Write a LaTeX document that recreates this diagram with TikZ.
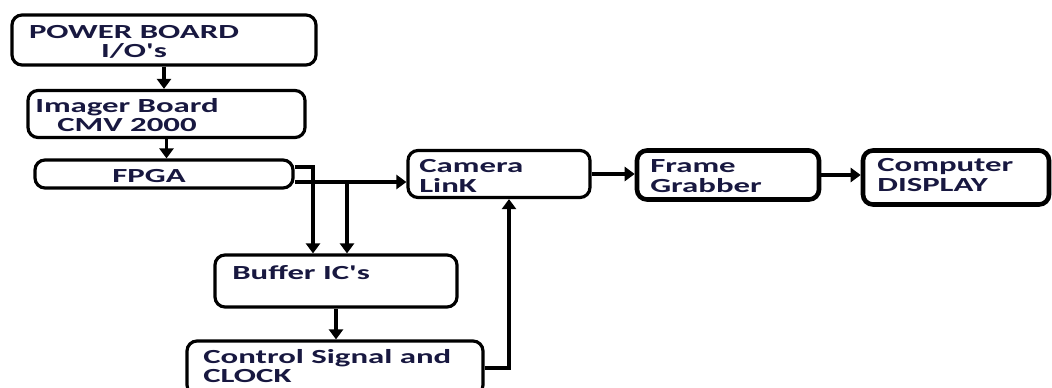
\documentclass[tikz,border=0pt]{standalone}
\usepackage{fontspec}
\setmainfont{Carlito}
\usetikzlibrary{arrows.meta}

\definecolor{inkblue}{RGB}{24,24,64}

\begin{document}
\begin{tikzpicture}[x=1pt,y=-1pt,
	box/.style={draw,rounded corners=10pt,line width=3.2pt,fill=white},
	heavybox/.style={box,line width=4.6pt},
	txt/.style={text=inkblue,font=\fontsize{20}{19.5}\selectfont\bfseries,
		inner sep=0pt,xscale=1.64},
	arr/.style={line width=3.2pt,-{Triangle[width=14pt,length=10pt]}}]
	\useasboundingbox (0,0) rectangle (1052,388);

	% left column
	\node[box,minimum width=304pt,minimum height=50pt] (pwr)  at (164,40)    {};
	\node[box,minimum width=277pt,minimum height=47pt] (img)  at (166.5,114) {};
	\node[box,minimum width=258pt,minimum height=28pt] (fpga) at (164,174)   {};
	\node[box,minimum width=242pt,minimum height=52pt] (bufr) at (336,281)   {};
	\node[box,minimum width=296pt,minimum height=54pt] (ctrl) at (335,368)   {};

	% top row
	\node[box,minimum width=182pt,minimum height=47pt]      (cam)  at (499,174)   {};
	\node[heavybox,minimum width=182pt,minimum height=49pt] (frm)  at (728,175)   {};
	\node[heavybox,minimum width=186pt,minimum height=54pt] (disp) at (956,177.5) {};

	% labels
	\node[txt,align=center] at (134,42)  {POWER BOARD\\I/O\textquotesingle s};
	\node[txt,align=center] at (127,115) {Imager Board\\CMV 2000};
	\node[txt]              at (149,176) {FPGA};
	\node[txt,align=left,anchor=west] at (419,176) {Camera\\LinK};
	\node[txt,align=left,anchor=west] at (650,176) {Frame\\Grabber};
	\node[txt,align=left,anchor=west] at (877,175) {Computer\\DISPLAY};
	\node[txt,anchor=west] at (232,273) {Buffer IC\textquotesingle s};
	\node[txt,align=left,anchor=west] at (203,366) {Control Signal and\\CLOCK};

	\coordinate (tap) at (347,182);

	% connectors
	\draw[arr] (pwr.south) -- (pwr.south |- img.north);
	\draw[arr] (img.south) -- (img.south |- fpga.north);
	\draw[arr] ([yshift=7pt]fpga.east) -| ([xshift=-23pt]bufr.north);
	\draw[arr] (fpga.east |- tap) -- (tap -| cam.west);
	\draw[arr] (tap) -- (tap |- bufr.north);
	\draw[arr] (bufr.south) -- (bufr.south |- ctrl.north);
	\draw[arr] (ctrl.east) -| ([xshift=10pt]cam.south);
	\draw[arr] (cam.east) -- (cam.east -| frm.west);
	\draw[arr] (frm.east) -- (frm.east -| disp.west);
\end{tikzpicture}
\end{document}
